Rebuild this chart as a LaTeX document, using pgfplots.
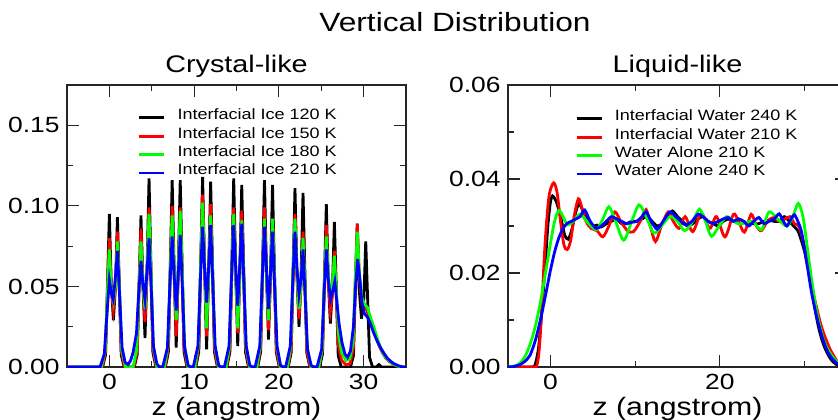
\documentclass[border=0pt]{standalone}
\usepackage{fontspec}
\setmainfont{Liberation Sans}[FakeStretch=1.2]
\usepackage{pgfplots}
\pgfplotsset{compat=1.18}
\definecolor{cgreen}{RGB}{0,255,0}
\definecolor{cblue}{RGB}{0,0,255}
\definecolor{cred}{RGB}{255,0,0}
\pgfplotsset{
  panel/.style={
    scale only axis, width=169.5pt, height=141pt, anchor=south west,
    axis line style={black!85, line width=0.6pt},
    tick align=inside, major tick length=6pt, minor tick length=3pt,
    every tick/.style={black!85, line width=0.6pt},
    /pgf/number format/assume math mode=true,
    tick label style={font=\fontsize{11}{13}\selectfont, inner sep=0pt},
    xticklabel style={yshift=-3.5pt},
    yticklabel style={xshift=-3.5pt, /pgf/number format/.cd, fixed, fixed zerofill, precision=2},
    scaled y ticks=false,
    xlabel={z (angstrom)},
    xlabel style={font=\fontsize{12.6}{14}\selectfont, at={(axis description cs:0.5,0)}, anchor=base, yshift=-24pt},
    every axis title shift=0pt,
    title style={font=\fontsize{12}{14}\selectfont, at={(axis description cs:0.5,1)}, anchor=base, yshift=6.5pt},
    xmin=-5, xmax=35, ymin=0,
    legend cell align=left,
    legend image code/.code={\draw[#1] (0pt,0pt) -- (12.5pt,0pt);},
    legend style={draw=none, fill=none, inner sep=0pt, outer sep=0pt, anchor=north west,
      font=\fontsize{7.5}{9}\selectfont, row sep=0pt,
      nodes={inner sep=0pt, text height=5.55pt, text depth=3.65pt},
      /tikz/every odd column/.append style={column sep=6pt}},
    every axis plot/.append style={line width=1.4pt},
  }
}
\begin{document}
\begin{tikzpicture}
\useasboundingbox (0,0) rectangle (419pt,209.5pt);
\begin{axis}[panel, at={(33.5pt,26pt)}, ymax=0.175,
  xtick={0,10,20,30}, minor xtick={5,15,25},
  ytick={0,0.05,0.1,0.15}, minor ytick={0.025,0.075,0.125},
  title={Crystal-like},
  legend style={at={(0.209,0.916)}}]
\addplot[black] coordinates {(-5,0) (-0.8,0) (-0.45,0.0076) (-0.22,0.052) (0,0.095) (0.22,0.052) (0.475,0.029) (0.73,0.051) (0.95,0.093) (1.17,0.051) (1.4,0.0074) (1.75,0)
(2.93,0) (3.28,0.0075) (3.51,0.052) (3.73,0.094) (3.95,0.052) (4.205,0.018) (4.46,0.064) (4.68,0.117) (4.90,0.064) (5.13,0.0094) (5.48,0)
(6.61,0) (6.96,0.0093) (7.19,0.064) (7.41,0.116) (7.63,0.064) (7.885,0.012) (8.14,0.064) (8.36,0.116) (8.58,0.064) (8.81,0.0093) (9.16,0)
(10.2,0) (10.55,0.0094) (10.78,0.065) (11.0,0.118) (11.22,0.065) (11.475,0.011) (11.73,0.063) (11.95,0.115) (12.17,0.063) (12.4,0.0092) (12.75,0)
(13.87,0) (14.22,0.0094) (14.45,0.064) (14.67,0.117) (14.89,0.064) (15.145,0.013) (15.40,0.062) (15.62,0.113) (15.84,0.062) (16.07,0.009) (16.42,0)
(17.5,0) (17.85,0.0093) (18.08,0.064) (18.3,0.116) (18.52,0.064) (18.775,0.017) (19.03,0.062) (19.25,0.113) (19.47,0.062) (19.7,0.009) (20.05,0)
(21.1,0) (21.45,0.0089) (21.68,0.061) (21.9,0.111) (22.12,0.061) (22.375,0.025) (22.63,0.059) (22.85,0.108) (23.07,0.059) (23.3,0.0086) (23.65,0)
(24.8,0) (25.15,0.0081) (25.38,0.056) (25.6,0.101) (25.82,0.056) (26.075,0.027) (26.33,0.050) (26.55,0.090) (26.77,0.050) (27.0,0.0072) (27.35,0)
(28.45,0) (28.8,0.0071) (29.03,0.049) (29.25,0.089) (29.47,0.049) (29.75,0.030) (30.03,0.043) (30.25,0.078) (30.47,0.043) (30.7,0.006) (31.05,0) (31.5,0) (31.8,0.0015) (32.1,0) (35,0)};
\addlegendentry{Interfacial Ice 120 K}
\addplot[cred] coordinates {(-5,0) (-0.85,0) (-0.45,0.0096) (-0.22,0.048) (0,0.080) (0.22,0.048) (0.475,0.036) (0.73,0.050) (0.95,0.084) (1.17,0.050) (1.4,0.010) (1.8,0)
(2.88,0) (3.28,0.010) (3.51,0.052) (3.73,0.086) (3.95,0.052) (4.205,0.028) (4.46,0.059) (4.68,0.099) (4.90,0.059) (5.13,0.012) (5.53,0)
(6.56,0) (6.96,0.012) (7.19,0.060) (7.41,0.100) (7.63,0.060) (7.885,0.019) (8.14,0.059) (8.36,0.099) (8.58,0.059) (8.81,0.012) (9.21,0)
(10.15,0) (10.55,0.013) (10.78,0.064) (11.0,0.107) (11.22,0.064) (11.475,0.019) (11.73,0.061) (11.95,0.101) (12.17,0.061) (12.4,0.012) (12.8,0)
(13.82,0) (14.22,0.012) (14.45,0.059) (14.67,0.099) (14.89,0.059) (15.145,0.021) (15.40,0.058) (15.62,0.097) (15.84,0.058) (16.07,0.012) (16.47,0)
(17.45,0) (17.85,0.012) (18.08,0.059) (18.3,0.099) (18.52,0.059) (18.775,0.023) (19.03,0.055) (19.25,0.092) (19.47,0.055) (19.7,0.011) (20.1,0)
(21.05,0) (21.45,0.011) (21.68,0.057) (21.9,0.095) (22.12,0.057) (22.375,0.030) (22.63,0.050) (22.85,0.084) (23.07,0.050) (23.3,0.010) (23.7,0)
(24.75,0) (25.15,0.011) (25.38,0.053) (25.6,0.088) (25.82,0.053) (26.075,0.035) (26.33,0.045) (26.55,0.072) (26.77,0.045) (27.0,0.014) (27.4,0.004) (27.9,0.0015)
(28.4,0.002) (28.8,0.012) (29.03,0.055) (29.25,0.089) (29.5,0.055) (29.8,0.040) (30.1,0.038) (30.4,0.035) (30.7,0.030) (31.1,0.025) (31.5,0.018) (31.85,0.013) (32.2,0.009) (32.6,0.0056) (33.0,0.0035) (33.4,0.002) (34.0,0.0005) (34.5,0) (35,0)};
\addlegendentry{Interfacial Ice 150 K}
\addplot[cgreen] coordinates {(-5,0) (-0.95,0) (-0.5,0.010) (-0.25,0.044) (0,0.073) (0.22,0.047) (0.475,0.041) (0.73,0.051) (0.95,0.078) (1.2,0.047) (1.45,0.011) (1.9,0)
(2.8,0) (3.23,0.011) (3.48,0.047) (3.73,0.078) (3.95,0.051) (4.205,0.036) (4.46,0.062) (4.68,0.095) (4.93,0.057) (5.18,0.013) (5.6,0)
(6.5,0) (6.91,0.013) (7.16,0.056) (7.41,0.094) (7.63,0.061) (7.885,0.029) (8.14,0.063) (8.36,0.097) (8.61,0.058) (8.86,0.014) (9.28,0)
(10.1,0) (10.5,0.014) (10.75,0.061) (11.0,0.102) (11.22,0.066) (11.475,0.024) (11.73,0.061) (11.95,0.094) (12.2,0.056) (12.45,0.013) (12.87,0)
(13.77,0) (14.17,0.013) (14.42,0.057) (14.67,0.095) (14.89,0.062) (15.145,0.024) (15.40,0.059) (15.62,0.091) (15.87,0.055) (16.12,0.013) (16.54,0)
(17.4,0) (17.8,0.013) (18.05,0.055) (18.3,0.092) (18.52,0.060) (18.775,0.029) (19.03,0.060) (19.25,0.092) (19.5,0.055) (19.75,0.013) (20.17,0)
(21.0,0) (21.4,0.013) (21.65,0.055) (21.9,0.092) (22.12,0.060) (22.375,0.036) (22.63,0.052) (22.85,0.080) (23.1,0.048) (23.35,0.012) (23.8,0)
(24.7,0) (25.1,0.011) (25.35,0.049) (25.6,0.081) (25.82,0.058) (26.075,0.046) (26.33,0.052) (26.55,0.069) (26.8,0.045) (27.05,0.020) (27.4,0.009) (27.9,0.004)
(28.35,0.005) (28.75,0.015) (29.0,0.053) (29.25,0.084) (29.5,0.058) (29.8,0.043) (30.1,0.039) (30.45,0.037) (30.8,0.031) (31.2,0.025) (31.6,0.018) (32.0,0.012) (32.4,0.0075) (32.8,0.0048) (33.2,0.003) (33.7,0.0012) (34.3,0) (35,0)};
\addlegendentry{Interfacial Ice 180 K}
\addplot[cblue] coordinates {(-5,0) (-1.1,0) (-0.6,0.008) (-0.3,0.032) (0,0.054) (0.22,0.046) (0.45,0.042) (0.7,0.055) (0.95,0.072) (1.2,0.045) (1.5,0.012) (1.85,0.003) (2.2,0.0015) (2.5,0.004) (2.8,0.009)
(3.2,0.021) (3.45,0.045) (3.73,0.066) (3.95,0.052) (4.2,0.042) (4.45,0.060) (4.68,0.080) (4.93,0.050) (5.2,0.013) (5.6,0.002) (5.9,0)
(6.3,0) (6.85,0.012) (7.13,0.050) (7.41,0.081) (7.63,0.058) (7.885,0.035) (8.14,0.059) (8.36,0.082) (8.61,0.050) (8.88,0.012) (9.3,0.001) (9.6,0)
(9.9,0) (10.45,0.013) (10.72,0.052) (11.0,0.087) (11.22,0.063) (11.475,0.040) (11.73,0.063) (11.95,0.088) (12.2,0.053) (12.48,0.013) (12.9,0.001) (13.2,0)
(13.57,0) (14.12,0.013) (14.39,0.053) (14.67,0.088) (14.89,0.063) (15.145,0.038) (15.40,0.064) (15.62,0.089) (15.87,0.053) (16.15,0.013) (16.57,0.001) (16.87,0)
(17.2,0) (17.75,0.013) (18.02,0.052) (18.3,0.087) (18.52,0.063) (18.775,0.036) (19.03,0.060) (19.25,0.084) (19.5,0.050) (19.78,0.013) (20.2,0.001) (20.5,0)
(20.8,0) (21.35,0.013) (21.62,0.050) (21.9,0.084) (22.12,0.062) (22.375,0.045) (22.63,0.055) (22.85,0.073) (23.1,0.044) (23.38,0.011) (23.8,0.001) (24.1,0)
(24.5,0) (25.05,0.011) (25.32,0.044) (25.6,0.073) (25.82,0.055) (26.1,0.042) (26.35,0.047) (26.6,0.053) (26.85,0.040) (27.1,0.027) (27.45,0.015) (27.8,0.008) (28.1,0.006)
(28.45,0.010) (28.8,0.025) (29.05,0.050) (29.3,0.067) (29.55,0.055) (29.8,0.040) (30.1,0.033) (30.45,0.031) (30.8,0.027) (31.2,0.021) (31.6,0.016) (32.0,0.012) (32.4,0.0085) (32.8,0.0055) (33.2,0.0035) (33.6,0.002) (34.1,0.0008) (34.6,0) (35,0)};
\addlegendentry{Interfacial Ice 210 K}
\end{axis}
\begin{axis}[panel, at={(254pt,26pt)}, ymax=0.06,
  xtick={0,20}, minor xtick={10,30},
  ytick={0,0.02,0.04,0.06}, minor ytick={0.01,0.03,0.05},
  title={Liquid-like},
  legend style={at={(0.198,0.913)}}]
\addplot[black, smooth, tension=0.4] coordinates {(-5,0) (-2.2,0) (-1.8,0.0005) (-1.4,0.004) (-1.0,0.012) (-0.6,0.022) (-0.3,0.030) (0.0,0.035) (0.25,0.0364) (0.7,0.0352) (1.2,0.032) (1.7,0.028) (2.1,0.0272) (2.5,0.029) (3.0,0.033) (3.4,0.0348) (3.9,0.033) (4.4,0.0315) (5.0,0.030) (5.5,0.0302) (6.0,0.0298) (6.6,0.0305) (7.2,0.031) (7.8,0.0315) (8.4,0.0305) (9.0,0.0305) (9.6,0.031) (10.2,0.031) (10.8,0.0315) (11.4,0.032) (12.0,0.031) (12.6,0.030) (13.2,0.0305) (13.8,0.032) (14.4,0.0332) (15.0,0.032) (15.6,0.031) (16.2,0.030) (16.8,0.0305) (17.4,0.0315) (18.0,0.032) (18.6,0.031) (19.2,0.0305) (19.8,0.030) (20.4,0.031) (21.0,0.0315) (21.6,0.031) (22.2,0.0315) (22.8,0.031) (23.4,0.0305) (24.0,0.0305) (24.6,0.0305) (25.2,0.031) (25.8,0.0312) (26.4,0.031) (27.0,0.031) (27.6,0.032) (28.2,0.031) (28.7,0.030) (29.2,0.029) (29.6,0.027) (30.0,0.0245) (30.4,0.021) (30.8,0.017) (31.2,0.0125) (31.6,0.0088) (32.0,0.006) (32.4,0.004) (32.8,0.0025) (33.2,0.0014) (33.7,0.0006) (34.3,0.0001) (35,0)};
\addlegendentry{Interfacial Water 240 K}
\addplot[cred, smooth, tension=0.5] coordinates {(-5,0) (-2,0) (-1.6,0.0003) (-1.3,0.004) (-1.0,0.013) (-0.7,0.024) (-0.4,0.032) (-0.1,0.037) (0.4,0.0392) (0.8,0.037) (1.2,0.031) (1.6,0.026) (2.0,0.025) (2.4,0.027) (2.8,0.032) (3.3,0.0358) (3.7,0.034) (4.2,0.031) (4.8,0.0295) (5.5,0.029) (6.2,0.0277) (6.9,0.030) (7.6,0.033) (8.3,0.031) (9.1,0.029) (9.8,0.0288) (10.6,0.031) (11.3,0.0335) (11.8,0.030) (12.4,0.0267) (13.1,0.030) (13.9,0.033) (14.5,0.031) (15.2,0.0295) (15.9,0.032) (16.8,0.0288) (17.8,0.0327) (18.8,0.0295) (19.6,0.032) (20.6,0.0277) (21.6,0.0325) (22.2,0.031) (22.9,0.0287) (23.7,0.0325) (24.3,0.030) (24.9,0.029) (25.6,0.031) (26.3,0.0318) (27.0,0.031) (27.7,0.0315) (28.3,0.032) (28.8,0.0305) (29.3,0.030) (29.8,0.027) (30.2,0.0235) (30.6,0.0195) (31.0,0.0158) (31.4,0.0128) (31.8,0.0098) (32.2,0.0074) (32.6,0.0055) (33.0,0.0038) (33.4,0.0025) (33.8,0.0013) (34.3,0.0005) (35,0)};
\addlegendentry{Interfacial Water 210 K}
\addplot[cgreen, smooth, tension=0.5] coordinates {(-5,0) (-4.3,0.0002) (-3.6,0.0008) (-3.0,0.0022) (-2.4,0.0048) (-1.8,0.0085) (-1.2,0.0135) (-0.6,0.0198) (0.0,0.0262) (0.5,0.031) (1.0,0.0333) (1.5,0.032) (2.0,0.0303) (2.7,0.031) (3.5,0.0325) (4.3,0.031) (5.4,0.0292) (6.2,0.0315) (6.9,0.0341) (7.7,0.031) (8.65,0.027) (9.6,0.031) (10.45,0.0345) (11.3,0.032) (12.2,0.0285) (13.1,0.030) (14.1,0.032) (15.0,0.031) (15.85,0.029) (16.8,0.031) (17.6,0.0336) (18.3,0.031) (19.0,0.0278) (19.9,0.030) (20.8,0.032) (21.6,0.031) (22.35,0.0304) (23.2,0.0308) (23.9,0.031) (24.9,0.0292) (25.8,0.033) (26.8,0.0315) (27.9,0.030) (28.6,0.032) (29.25,0.0348) (29.8,0.032) (30.2,0.027) (30.6,0.0215) (31.0,0.0165) (31.4,0.012) (31.8,0.0087) (32.2,0.006) (32.6,0.0042) (33.0,0.003) (33.5,0.0017) (34.0,0.0008) (34.6,0.0002) (35,0)};
\addlegendentry{Water Alone 210 K}
\addplot[cblue, smooth, tension=0.4] coordinates {(-5,0) (-4.3,0.0001) (-3.6,0.0005) (-3.0,0.0012) (-2.4,0.0025) (-1.8,0.0055) (-1.2,0.0098) (-0.6,0.015) (0.0,0.0205) (0.5,0.0245) (1.0,0.0275) (1.5,0.0295) (2.0,0.0306) (2.5,0.031) (3.0,0.0315) (3.5,0.032) (4.05,0.0334) (4.7,0.031) (5.4,0.0295) (6.0,0.030) (6.6,0.031) (7.2,0.032) (7.8,0.0315) (8.4,0.031) (9.0,0.0305) (9.6,0.0308) (10.2,0.031) (10.8,0.032) (11.3,0.033) (11.9,0.031) (12.6,0.0293) (13.3,0.031) (14.1,0.033) (14.8,0.032) (15.4,0.031) (16.0,0.0302) (16.7,0.031) (17.4,0.0325) (18.0,0.032) (18.6,0.031) (19.2,0.0305) (19.8,0.031) (20.4,0.0315) (21.0,0.0318) (21.6,0.031) (22.2,0.0315) (22.8,0.031) (23.4,0.030) (24.0,0.031) (24.6,0.0318) (25.2,0.0305) (25.8,0.031) (26.4,0.0315) (27.0,0.0326) (27.5,0.031) (27.9,0.030) (28.4,0.0315) (28.8,0.0324) (29.2,0.031) (29.6,0.029) (30.0,0.025) (30.4,0.0205) (30.8,0.016) (31.2,0.0125) (31.6,0.0094) (32.0,0.0068) (32.4,0.0046) (32.8,0.003) (33.2,0.0019) (33.6,0.0011) (34.1,0.0004) (34.6,0.0001) (35,0)};
\addlegendentry{Water Alone 240 K}
\end{axis}
\node[font=\fontsize{13.2}{15}\selectfont, anchor=base] at (227.5pt,193.5pt) {Vertical Distribution};
\end{tikzpicture}
\end{document}
